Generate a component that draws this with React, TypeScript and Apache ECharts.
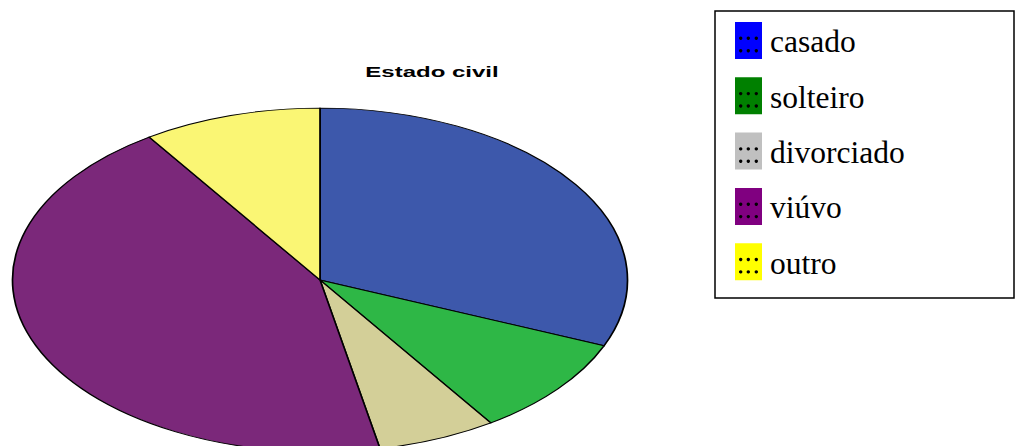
import React, { useEffect, useRef } from "react";
import * as echarts from "echarts";

const titleText = "Estado civil";
const categories = ["casado", "solteiro", "divorciado", "viúvo", "outro"];
const values = [10, 3, 2, 14, 3];
const sliceColors = ["#3D58AB", "#2EB746", "#D3CF98", "#7B287A", "#FAF674"];
const legendColors = ["#0000FF", "#008000", "#C0C0C0", "#800080", "#FFFF00"];

const CX = 320;
const CY = 280;
const RX = 307.5;
const RY = 172;

export default function App() {
  const ref = useRef<HTMLDivElement>(null);
  useEffect(() => {
    document.body.style.margin = "0";
    const chart = echarts.init(ref.current!, null, { renderer: "svg" });
    const total = values.reduce((a, b) => a + b, 0);

    const legendEls: any[] = [];
    legendEls.push({
      type: "rect",
      shape: { x: 715, y: 11, width: 299, height: 287 },
      style: { fill: "#fff", stroke: "#000", lineWidth: 1.5 },
    });
    categories.forEach((name, i) => {
      const top = 22 + i * 55.3;
      legendEls.push({
        type: "rect",
        shape: { x: 735, y: top, width: 27, height: 37 },
        style: { fill: legendColors[i] },
      });
      [5.7, 13.3, 21.3].forEach((dx) => {
        [16.3, 28.7].forEach((dy) => {
          legendEls.push({
            type: "circle",
            shape: { cx: 735 + dx, cy: top + dy, r: 1.7 },
            style: { fill: "#000" },
          });
        });
      });
      legendEls.push({
        type: "text",
        x: 770,
        y: top + 19.8,
        style: {
          text: name,
          fill: "#000",
          font: "31.5px 'Liberation Serif', 'Times New Roman', serif",
          textAlign: "left",
          textVerticalAlign: "middle",
        },
      });
    });

    chart.setOption({
      animation: false,
      backgroundColor: "#fff",
      series: [
        {
          type: "custom",
          coordinateSystem: "none",
          data: values.map((v, i) => ({ name: categories[i], value: v })),
          renderItem: (params: any, api: any) => {
            const i = params.dataIndex;
            let before = 0;
            for (let j = 0; j < i; j++) before += values[j];
            const v = api.value(0);
            const start = -Math.PI / 2 + (before / total) * Math.PI * 2;
            const end = start + (v / total) * Math.PI * 2;
            return {
              type: "sector",
              x: CX,
              y: CY,
              scaleY: RY / RX,
              shape: { cx: 0, cy: 0, r0: 0, r: RX, startAngle: start, endAngle: end, clockwise: true },
              style: { fill: sliceColors[i], stroke: "#000", lineWidth: 1.7, strokeNoScale: true },
            };
          },
        },
      ],
      graphic: [
        {
          type: "text",
          x: 432,
          y: 72,
          scaleX: 1.6,
          style: {
            text: titleText,
            fill: "#000",
            font: "bold 15px 'Liberation Sans', Arial, sans-serif",
            textAlign: "center",
            textVerticalAlign: "middle",
          },
        },
        ...legendEls,
      ],
    });
    return () => chart.dispose();
  }, []);
  return <div ref={ref} style={{ width: 1016, height: 446 }} />;
}
